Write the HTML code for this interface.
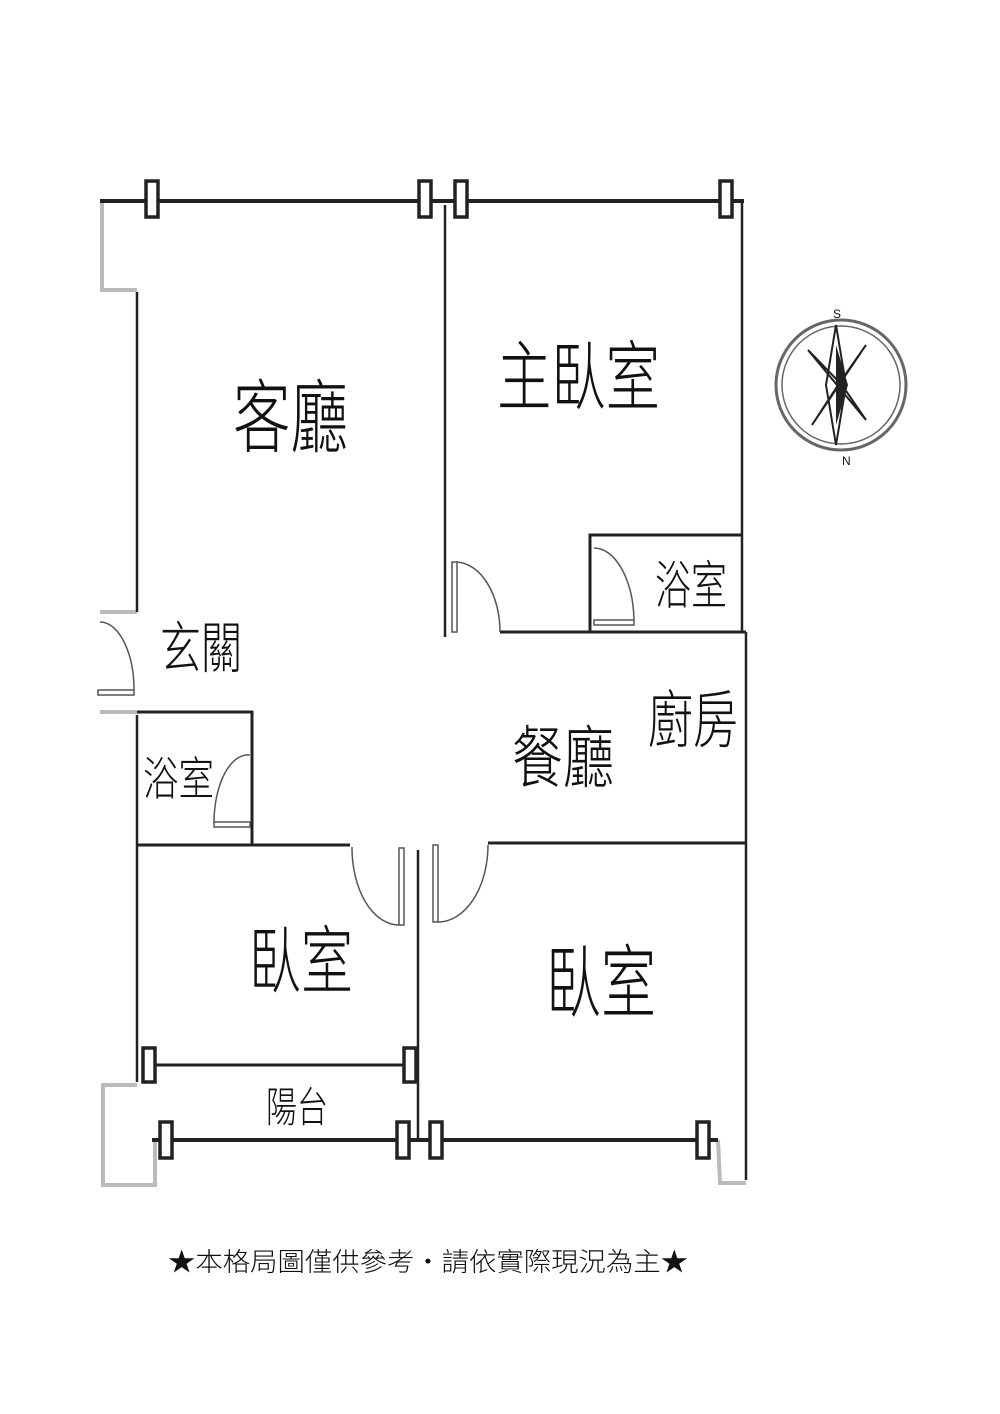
<!DOCTYPE html>
<html><head><meta charset="utf-8"><style>
html,body{margin:0;padding:0;background:#fff;}
svg{display:block}
text{font-family:"Liberation Sans","Noto Sans CJK TC",sans-serif;fill:#111;font-weight:300}
</style></head><body>
<svg width="1000" height="1414" viewBox="0 0 1000 1414" xmlns="http://www.w3.org/2000/svg">
<g stroke="#bbb" stroke-width="4" fill="none">
<polyline points="102,201 102,290 137,290"/>
<polyline points="100,612 137,612"/>
<polyline points="100,712 137,712"/>
<polyline points="137,1085 103,1085 103,1185 155,1185 155,1140"/>
<polyline points="718,1140 720,1183 746,1183"/>
</g>
<g stroke="#222" fill="none">
<line x1="100" y1="201" x2="744" y2="201" stroke-width="4"/>
<line x1="137" y1="292" x2="137" y2="612" stroke-width="2.5"/>
<line x1="137" y1="715" x2="137" y2="1082" stroke-width="2.5"/>
<line x1="445" y1="205" x2="445" y2="637" stroke-width="2.5"/>
<line x1="742" y1="201" x2="742" y2="632" stroke-width="2.5"/>
<line x1="746" y1="632" x2="746" y2="1180" stroke-width="2.5"/>
<line x1="500" y1="632" x2="746" y2="632" stroke-width="3"/>
<polyline points="590,632 590,535 742,535" stroke-width="3"/>
<polyline points="137,712 252,712 252,845" stroke-width="3"/>
<line x1="137" y1="845" x2="350" y2="845" stroke-width="3"/>
<line x1="488" y1="843" x2="746" y2="843" stroke-width="3"/>
<line x1="418" y1="850" x2="418" y2="1140" stroke-width="2.5"/>
<line x1="152" y1="1065" x2="412" y2="1065" stroke-width="3"/>
<line x1="152" y1="1140" x2="718" y2="1140" stroke-width="4"/>
</g>
<g stroke="#222" stroke-width="3.5" fill="#fff">
<rect x="146" y="181" width="12" height="36"/><rect x="419" y="181" width="12" height="36"/>
<rect x="455" y="181" width="12" height="36"/><rect x="720" y="181" width="12" height="36"/>
<rect x="143" y="1048" width="12" height="34"/><rect x="404" y="1048" width="12" height="34"/>
<rect x="160" y="1122" width="12" height="36"/><rect x="397" y="1122" width="12" height="36"/>
<rect x="430" y="1122" width="12" height="36"/><rect x="697" y="1122" width="12" height="36"/>
</g>
<g stroke="#555" stroke-width="1.5" fill="none">
<rect x="452" y="562" width="5" height="70"/><path d="M457,562 A45,70 0 0 1 500,632"/>
<rect x="594" y="620" width="40" height="5"/><path d="M594,548 A40,75 0 0 1 634,620"/>
<rect x="98" y="690" width="36" height="5"/><path d="M100,622 A34,68 0 0 1 134,690"/>
<rect x="214" y="822" width="36" height="5"/><path d="M250,755 A34,68 0 0 0 214,822"/>
<rect x="399" y="848" width="5" height="77"/><path d="M352,847 A47,77 0 0 0 399,925"/>
<rect x="433" y="845" width="5" height="77"/><path d="M488,845 A50,77 0 0 1 438,922"/>
</g>
<g>
<circle cx="841" cy="385" r="65" fill="none" stroke="#666" stroke-width="3"/>
<circle cx="841" cy="385" r="59" fill="none" stroke="#666" stroke-width="1.5"/>
<polygon points="836,325 846,385 836,445 826,385" fill="none" stroke="#222" stroke-width="2"/>
<polygon points="836,345 848,385 836,425" fill="#222"/>
<polygon points="808,350 866,420 842,385" fill="none" stroke="#222" stroke-width="2"/>
<polygon points="866,345 812,425 838,385" fill="none" stroke="#222" stroke-width="2"/>
<polygon points="836,360 846,385 836,410" fill="#222"/>
<text x="833" y="318" font-size="12">S</text>
<text x="842" y="465" font-size="12">N</text>
</g>
<text x="233" y="446" font-size="80" textLength="115" lengthAdjust="spacingAndGlyphs">客廳</text>
<text x="497" y="404" font-size="76" textLength="163" lengthAdjust="spacingAndGlyphs">主臥室</text>
<text x="655" y="604" font-size="52" textLength="72" lengthAdjust="spacingAndGlyphs" fill="#333">浴室</text>
<text x="160" y="668" font-size="56" textLength="82" lengthAdjust="spacingAndGlyphs" fill="#333">玄關</text>
<text x="648" y="742" font-size="62" textLength="90" lengthAdjust="spacingAndGlyphs" fill="#333">廚房</text>
<text x="512" y="782" font-size="68" textLength="102" lengthAdjust="spacingAndGlyphs" fill="#333">餐廳</text>
<text x="143" y="795" font-size="46" textLength="71" lengthAdjust="spacingAndGlyphs" fill="#333">浴室</text>
<text x="249" y="987" font-size="74" textLength="104" lengthAdjust="spacingAndGlyphs">臥室</text>
<text x="546" y="1011" font-size="80" textLength="110" lengthAdjust="spacingAndGlyphs">臥室</text>
<text x="266" y="1122" font-size="42" textLength="62" lengthAdjust="spacingAndGlyphs" fill="#555">陽台</text>
<text x="168" y="1271" font-size="26" textLength="520" lengthAdjust="spacingAndGlyphs">★本格局圖僅供參考‧請依實際現況為主★</text>
</svg>
</body></html>
